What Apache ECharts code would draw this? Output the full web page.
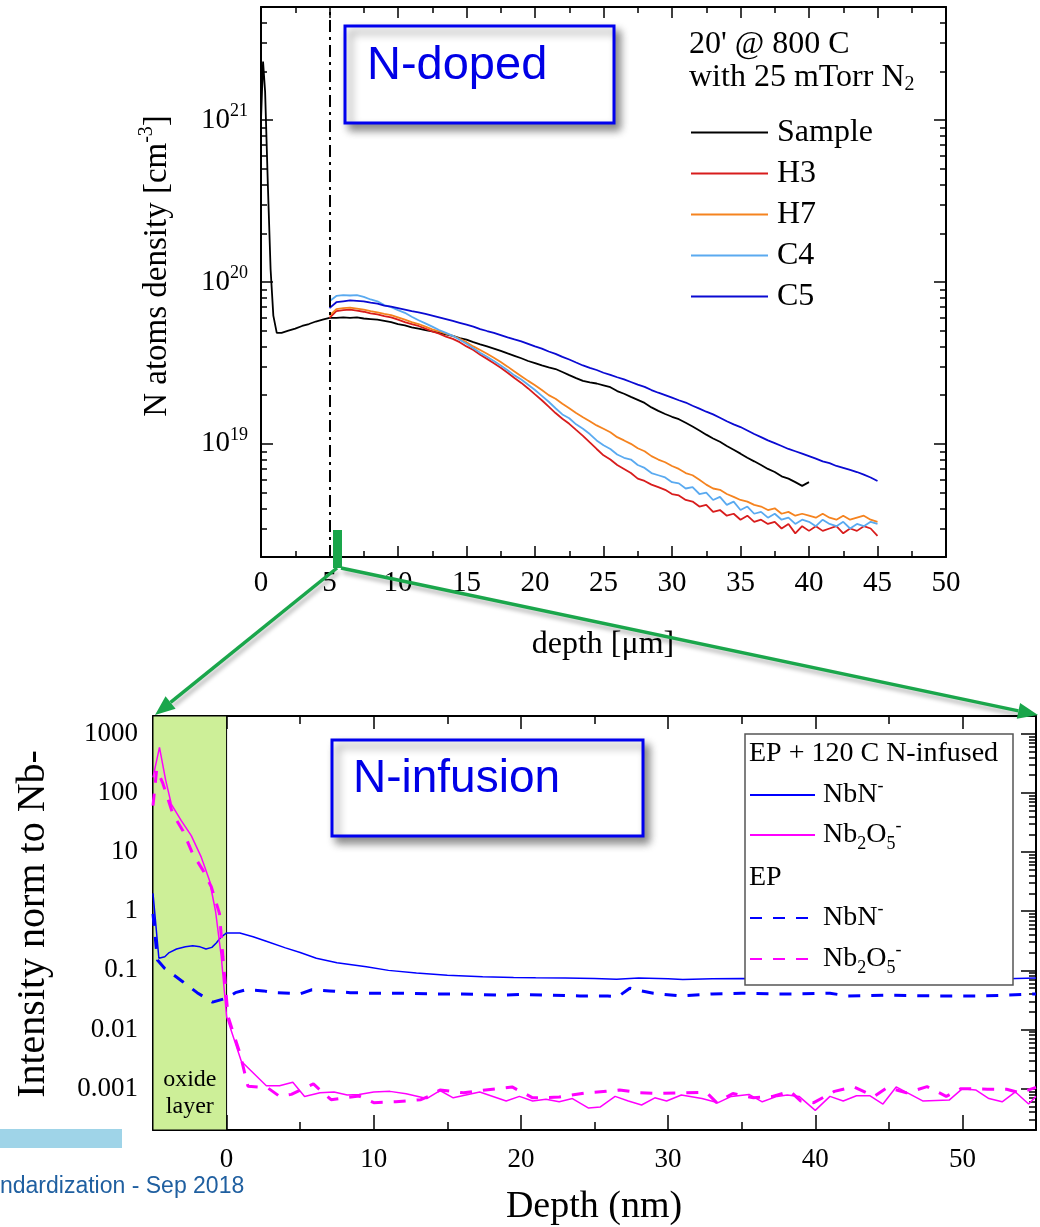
<!DOCTYPE html>
<html><head><meta charset="utf-8">
<script src="https://cdn.jsdelivr.net/npm/echarts@6/dist/echarts.min.js"></script>
<style>html,body{margin:0;padding:0;background:#fff}#c{width:1040px;height:1227px}</style>
</head><body><div id="c"></div>
<script>
// ================= TOP CHART DATA (N-doped, depth in µm, density in cm^-3) =================
const topXTicks = [0, 5, 10, 15, 20, 25, 30, 35, 40, 45, 50];
const topYTicks = [1e19, 1e20, 1e21];
const topYTickExponents = ['19', '20', '21'];
const topSeriesNames = ['Sample', 'H3', 'H7', 'C4', 'C5'];

const sampleDepthUm = [
 0, 0.15, 0.3, 0.5, 0.7, 0.9, 1.15, 1.5, 2, 2.5, 3, 3.5, 4, 4.5,
 5, 5.5, 6, 6.5, 7, 7.5, 8, 8.5, 9, 9.5,
 10, 10.5, 11, 11.5, 12, 12.5, 13, 13.5, 14, 14.5,
 15, 15.5, 16, 16.5, 17, 17.5, 18, 18.5, 19, 19.5,
 20, 20.5, 21, 21.5, 22, 22.5, 23, 23.5, 24, 24.5,
 25, 25.5, 26, 26.5, 27, 27.5, 28, 28.5, 29, 29.5,
 30, 30.5, 31, 31.5, 32, 32.5, 33, 33.5, 34, 34.5,
 35, 35.5, 36, 36.5, 37, 37.5, 38, 38.5, 39, 39.5,
 40];
const sampleDensity = [
 100e19, 230e19, 150e19, 40e19, 12e19, 6.2e19, 4.85e19, 4.85e19, 5.0e19, 5.15e19, 5.35e19, 5.5e19, 5.7e19, 5.85e19,
 6.0e19, 6.0e19, 6.05e19, 6.0e19, 6.05e19, 5.95e19, 5.9e19, 5.85e19, 5.75e19, 5.65e19,
 5.5e19, 5.4e19, 5.25e19, 5.15e19, 5.05e19, 4.95e19, 4.85e19, 4.75e19, 4.65e19, 4.5e19,
 4.4e19, 4.25e19, 4.12e19, 4.0e19, 3.88e19, 3.75e19, 3.62e19, 3.5e19, 3.38e19, 3.25e19,
 3.15e19, 3.05e19, 2.97e19, 2.9e19, 2.78e19, 2.66e19, 2.55e19, 2.45e19, 2.4e19, 2.36e19,
 2.3e19, 2.24e19, 2.12e19, 2.04e19, 1.95e19, 1.87e19, 1.79e19, 1.68e19, 1.6e19, 1.53e19,
 1.47e19, 1.42e19, 1.35e19, 1.28e19, 1.21e19, 1.14e19, 1.08e19, 1.03e19, 0.97e19, 0.92e19,
 0.87e19, 0.82e19, 0.78e19, 0.74e19, 0.7e19, 0.67e19, 0.63e19, 0.61e19, 0.58e19, 0.55e19,
 0.58e19];

const depthUm = [
 5, 5.5, 6, 6.5, 7, 7.5, 8, 8.5, 9, 9.5,
 10, 10.5, 11, 11.5, 12, 12.5, 13, 13.5, 14, 14.5,
 15, 15.5, 16, 16.5, 17, 17.5, 18, 18.5, 19, 19.5,
 20, 20.5, 21, 21.5, 22, 22.5, 23, 23.5, 24, 24.5,
 25, 25.5, 26, 26.5, 27, 27.5, 28, 28.5, 29, 29.5,
 30, 30.5, 31, 31.5, 32, 32.5, 33, 33.5, 34, 34.5,
 35, 35.5, 36, 36.5, 37, 37.5, 38, 38.5, 39, 39.5,
 40, 40.5, 41, 41.5, 42, 42.5, 43, 43.5, 44, 44.5,
 45];
const densityH3 = [
 6.0e19, 6.6e19, 6.7e19, 6.75e19, 6.65e19, 6.55e19, 6.4e19, 6.3e19, 6.15e19, 6.05e19,
 5.85e19, 5.65e19, 5.5e19, 5.35e19, 5.15e19, 4.95e19, 4.8e19, 4.6e19, 4.45e19, 4.25e19,
 4.0e19, 3.8e19, 3.55e19, 3.35e19, 3.15e19, 2.95e19, 2.75e19, 2.55e19, 2.38e19, 2.2e19,
 2.02e19, 1.86e19, 1.7e19, 1.55e19, 1.43e19, 1.33e19, 1.22e19, 1.12e19, 1.02e19, 0.93e19,
 0.85e19, 0.8e19, 0.74e19, 0.7e19, 0.66e19, 0.61e19, 0.59e19, 0.56e19, 0.54e19, 0.52e19,
 0.49e19, 0.48e19, 0.45e19, 0.44e19, 0.41e19, 0.42e19, 0.38e19, 0.39e19, 0.36e19, 0.37e19,
 0.34e19, 0.36e19, 0.33e19, 0.34e19, 0.32e19, 0.33e19, 0.30e19, 0.32e19, 0.28e19, 0.31e19,
 0.29e19, 0.31e19, 0.29e19, 0.30e19, 0.31e19, 0.28e19, 0.30e19, 0.29e19, 0.31e19, 0.30e19,
 0.27e19];
const densityH7 = [
 6.2e19, 6.8e19, 6.9e19, 6.95e19, 6.85e19, 6.75e19, 6.6e19, 6.5e19, 6.35e19, 6.25e19,
 6.05e19, 5.85e19, 5.65e19, 5.5e19, 5.3e19, 5.1e19, 4.95e19, 4.8e19, 4.65e19, 4.45e19,
 4.25e19, 4.0e19, 3.8e19, 3.6e19, 3.4e19, 3.2e19, 3.0e19, 2.8e19, 2.62e19, 2.45e19,
 2.3e19, 2.15e19, 2.0e19, 1.9e19, 1.77e19, 1.66e19, 1.55e19, 1.46e19, 1.38e19, 1.3e19,
 1.24e19, 1.18e19, 1.1e19, 1.05e19, 1.0e19, 0.94e19, 0.9e19, 0.84e19, 0.8e19, 0.77e19,
 0.73e19, 0.7e19, 0.66e19, 0.64e19, 0.6e19, 0.56e19, 0.53e19, 0.52e19, 0.49e19, 0.47e19,
 0.45e19, 0.44e19, 0.42e19, 0.41e19, 0.39e19, 0.40e19, 0.37e19, 0.38e19, 0.36e19, 0.37e19,
 0.36e19, 0.35e19, 0.37e19, 0.35e19, 0.34e19, 0.36e19, 0.34e19, 0.35e19, 0.36e19, 0.34e19,
 0.33e19];
const densityC4 = [
 7.6e19, 8.2e19, 8.3e19, 8.25e19, 8.3e19, 8.1e19, 7.8e19, 7.6e19, 7.2e19, 7.0e19,
 6.7e19, 6.45e19, 6.1e19, 5.8e19, 5.55e19, 5.3e19, 5.05e19, 4.85e19, 4.65e19, 4.4e19,
 4.15e19, 3.9e19, 3.65e19, 3.45e19, 3.25e19, 3.05e19, 2.85e19, 2.65e19, 2.5e19, 2.32e19,
 2.15e19, 1.98e19, 1.82e19, 1.66e19, 1.52e19, 1.44e19, 1.32e19, 1.24e19, 1.15e19, 1.05e19,
 0.98e19, 0.93e19, 0.86e19, 0.82e19, 0.80e19, 0.74e19, 0.71e19, 0.66e19, 0.64e19, 0.62e19,
 0.58e19, 0.57e19, 0.53e19, 0.54e19, 0.49e19, 0.50e19, 0.45e19, 0.47e19, 0.42e19, 0.44e19,
 0.39e19, 0.41e19, 0.37e19, 0.38e19, 0.35e19, 0.37e19, 0.34e19, 0.35e19, 0.32e19, 0.34e19,
 0.33e19, 0.31e19, 0.34e19, 0.32e19, 0.31e19, 0.33e19, 0.30e19, 0.32e19, 0.31e19, 0.33e19,
 0.32e19];
const densityC5 = [
 6.9e19, 7.5e19, 7.6e19, 7.7e19, 7.65e19, 7.6e19, 7.45e19, 7.35e19, 7.15e19, 7.05e19,
 6.9e19, 6.75e19, 6.6e19, 6.5e19, 6.35e19, 6.2e19, 6.05e19, 5.9e19, 5.75e19, 5.6e19,
 5.45e19, 5.3e19, 5.12e19, 4.98e19, 4.85e19, 4.7e19, 4.55e19, 4.42e19, 4.3e19, 4.15e19,
 4.0e19, 3.88e19, 3.72e19, 3.6e19, 3.45e19, 3.32e19, 3.18e19, 3.05e19, 2.95e19, 2.86e19,
 2.75e19, 2.67e19, 2.58e19, 2.5e19, 2.41e19, 2.32e19, 2.25e19, 2.15e19, 2.07e19, 2.0e19,
 1.93e19, 1.86e19, 1.8e19, 1.72e19, 1.65e19, 1.58e19, 1.52e19, 1.45e19, 1.38e19, 1.32e19,
 1.27e19, 1.21e19, 1.15e19, 1.1e19, 1.05e19, 1.01e19, 0.97e19, 0.93e19, 0.9e19, 0.87e19,
 0.84e19, 0.81e19, 0.78e19, 0.76e19, 0.73e19, 0.71e19, 0.69e19, 0.67e19, 0.645e19, 0.62e19,
 0.59e19];

// ================= BOTTOM CHART DATA (N-infusion, depth in nm, intensity) =================
const bottomXTicks = [0, 10, 20, 30, 40, 50];
const bottomXMinorTicks = [5, 15, 25, 35, 45, 55];
const bottomYTicks = [0.001, 0.01, 0.1, 1, 10, 100, 1000];
const bottomYTickLabels = ['0.001', '0.01', '0.1', '1', '10', '100', '1000'];

const infusedNbN = [[-5,2.0],[-4.6,0.16],[-4.2,0.17],[-3.9,0.2],[-3.4,0.23],[-2.8,0.25],[-2.3,0.26],[-1.8,0.25],[-1.4,0.23],[-1.0,0.245],[-0.7,0.29],[-0.4,0.36],[0,0.43],[0.9,0.43],[1.8,0.37],[2.7,0.31],[4.0,0.24],[5.0,0.2],[6.1,0.16],[7.5,0.135],[9.5,0.115],[11,0.1],[12.9,0.09],[15,0.083],[17.4,0.078],[19.5,0.076],[21,0.075],[23,0.074],[25,0.073],[26.5,0.071],[28,0.074],[30,0.072],[31,0.07],[33,0.072],[35,0.073],[38,0.072],[42,0.073],[46,0.072],[50,0.073],[53,0.072],[55,0.074]];
const infusedNb2O5 = [[-5,183],[-4.56,590],[-4.15,170],[-3.76,65],[-3.08,34],[-2.4,19],[-1.72,8.2],[-1.16,3.3],[-0.75,1.0],[-0.36,0.17],[0,0.0166],[1.0,0.0029],[2.7,0.00112],[3.6,0.00112],[4.5,0.00128],[5.3,0.00074],[6.35,0.00085],[7.3,0.00088],[8.2,0.00078],[9.0,0.0008],[10.0,0.00088],[11.1,0.0009],[12.2,0.00082],[13.6,0.00068],[14.5,0.00093],[15.4,0.0007],[17.2,0.00088],[19.0,0.00062],[19.9,0.00074],[20.8,0.00062],[21.7,0.00066],[22.6,0.0006],[23.5,0.00068],[24.6,0.00047],[25.4,0.00049],[26.4,0.00074],[27.3,0.00062],[28.2,0.00053],[29.1,0.0007],[29.9,0.00062],[30.9,0.00078],[32.3,0.00068],[33.4,0.00058],[34.3,0.00074],[35.5,0.0008],[36.4,0.0006],[37.4,0.00074],[38.1,0.00078],[38.9,0.00074],[40.0,0.00043],[41.0,0.00074],[41.9,0.00062],[42.8,0.00076],[43.7,0.00076],[44.6,0.00055],[45.5,0.00107],[47.3,0.00062],[49.1,0.00064],[50.0,0.001],[50.9,0.00095],[51.8,0.00068],[52.7,0.0006],[53.6,0.00088],[54.5,0.00055],[55,0.00074]];
const epNbN = [[-5,0.9],[-4.7,0.15],[-4.2,0.108],[-3.0,0.065],[-2.0,0.042],[-0.95,0.029],[0,0.034],[0.6,0.042],[1.3,0.047],[2.5,0.045],[3.2,0.042],[4.3,0.041],[5.0,0.040],[5.8,0.047],[7,0.045],[8.4,0.042],[10,0.041],[12,0.041],[14,0.040],[16,0.040],[18.6,0.038],[20,0.039],[22,0.038],[24,0.037],[25.9,0.037],[26.6,0.036],[27.4,0.05],[28.2,0.045],[29,0.041],[30.8,0.037],[33,0.04],[35,0.041],[37,0.04],[39,0.04],[41,0.041],[42.2,0.037],[45,0.038],[48,0.037],[51.4,0.037],[53,0.038],[55,0.04]];
const epNb2O5 = [[-5,61],[-4.75,250],[-4.35,150],[-3.65,44],[-2.97,23],[-2.3,9.3],[-1.6,4.9],[-1.04,2.6],[-0.48,0.91],[-0.25,0.17],[0.1,0.0166],[0.9,0.004],[1.45,0.0011],[2.8,0.00103],[3.6,0.00074],[4.4,0.0008],[5.2,0.001],[5.9,0.0012],[7.1,0.00065],[9.0,0.00075],[10.0,0.00058],[11.5,0.0006],[13.2,0.00065],[14.0,0.0008],[14.5,0.00095],[16.1,0.00085],[17.6,0.00095],[19.4,0.00107],[20.8,0.0007],[22.6,0.00072],[24.4,0.00085],[25.8,0.0009],[26.7,0.00095],[28.1,0.00085],[29.5,0.00083],[30.8,0.00085],[32.6,0.00087],[33.3,0.00058],[34.4,0.00083],[35.8,0.0007],[37.1,0.00074],[38.3,0.0009],[39.0,0.00062],[39.9,0.00058],[41.3,0.0009],[42.6,0.00108],[44.0,0.00074],[44.9,0.00105],[46.2,0.00085],[47.6,0.00108],[48.9,0.00074],[49.9,0.001],[51.7,0.00098],[53.0,0.00098],[53.9,0.00085],[55,0.00105]];

// ================= RENDER =================
const SERIF = '"Liberation Serif", "Times New Roman", serif';
const SANS = '"Liberation Sans", Arial, sans-serif';
const BLACK = '#000';

function logMinor(lo, hi, min, max) {
  const out = [];
  for (let e = lo; e <= hi; e++) for (let m = 2; m <= 9; m++) {
    const v = m * Math.pow(10, e);
    if (v >= min * 0.999 && v <= max * 1.001) out.push(v);
  }
  return out;
}
function findTick(v, ticks) {
  return ticks.findIndex(t => Math.abs(Math.log10(t) - Math.log10(v)) < 1e-6);
}
function yAx(gridIndex, position, min, max, tickVals, tickLen, showLine, label) {
  return {
    gridIndex, type: 'log', logBase: 10, min, max, position,
    axisLine: { show: showLine, onZero: false, lineStyle: { color: BLACK, width: 2 } },
    axisTick: { show: true, inside: true, length: tickLen, customValues: tickVals, lineStyle: { color: BLACK, width: 1.5 } },
    axisLabel: label || { show: false },
    splitLine: { show: false }, minorTick: { show: false }, minorSplitLine: { show: false }
  };
}
function xAx(gridIndex, position, min, max, extra) {
  return Object.assign({
    gridIndex, type: 'value', min, max, position,
    axisLine: { show: true, onZero: false, lineStyle: { color: BLACK, width: 2 } },
    splitLine: { show: false }, minorSplitLine: { show: false }
  }, extra);
}

const TOP_MIN = 2e18, TOP_MAX = 5e21;
const BOT_MIN = 2e-4, BOT_MAX = 2000;
const topMinor = logMinor(18, 21, TOP_MIN, TOP_MAX);
const botMinor = logMinor(-4, 3, BOT_MIN, BOT_MAX);

const topYLabel = {
  show: true, customValues: topYTicks, margin: 13,
  formatter: v => { const i = findTick(v, topYTicks); return i < 0 ? '' : '{b|10}{s|' + topYTickExponents[i] + '}'; },
  rich: {
    b: { fontSize: 29, lineHeight: 36, fontFamily: SERIF, color: BLACK },
    s: { fontSize: 18, lineHeight: 18, verticalAlign: 'top', fontFamily: SERIF, color: BLACK }
  }
};
const botYLabel = {
  show: true, customValues: bottomYTicks, margin: 15, fontSize: 27, fontFamily: SERIF, color: BLACK,
  formatter: v => { const i = findTick(v, bottomYTicks); return i < 0 ? '' : bottomYTickLabels[i]; }
};

const topTickCommon = {
  interval: 5,
  axisTick: { show: true, inside: true, length: 11, lineStyle: { color: BLACK, width: 1.5 } },
  minorTick: { show: true, splitNumber: 2, length: 6, lineStyle: { color: BLACK, width: 1.5 } }
};

const xAxes = [
  xAx(0, 'bottom', 0, 50, Object.assign({}, topTickCommon, {
    axisLabel: { show: true, customValues: topXTicks, margin: 12, fontSize: 29, fontFamily: SERIF, color: BLACK }
  })),
  xAx(0, 'top', 0, 50, Object.assign({}, topTickCommon, { axisLabel: { show: false } })),
  xAx(1, 'bottom', -5, 55, {
    axisTick: { show: true, inside: true, length: 15, customValues: bottomXTicks, lineStyle: { color: BLACK, width: 1.5 } },
    axisLabel: { show: true, customValues: bottomXTicks, margin: 16, fontSize: 27, fontFamily: SERIF, color: BLACK }
  }),
  xAx(1, 'bottom', -5, 55, {
    axisLine: { show: false, onZero: false },
    axisTick: { show: true, inside: true, length: 8, customValues: bottomXMinorTicks, lineStyle: { color: BLACK, width: 1.5 } },
    axisLabel: { show: false }
  }),
  xAx(1, 'top', -5, 55, {
    axisTick: { show: true, inside: true, length: 13, customValues: bottomXTicks, lineStyle: { color: BLACK, width: 1.5 } },
    axisLabel: { show: false }
  }),
  xAx(1, 'top', -5, 55, {
    axisLine: { show: false, onZero: false },
    axisTick: { show: true, inside: true, length: 8, customValues: bottomXMinorTicks, lineStyle: { color: BLACK, width: 1.5 } },
    axisLabel: { show: false }
  })
];
const yAxes = [
  yAx(0, 'left', TOP_MIN, TOP_MAX, topYTicks, 12, true, topYLabel),
  yAx(0, 'left', TOP_MIN, TOP_MAX, topMinor, 6, false),
  yAx(0, 'right', TOP_MIN, TOP_MAX, topYTicks, 12, true),
  yAx(0, 'right', TOP_MIN, TOP_MAX, topMinor, 6, false),
  yAx(1, 'left', BOT_MIN, BOT_MAX, bottomYTicks, 15, true, botYLabel),
  yAx(1, 'left', BOT_MIN, BOT_MAX, botMinor, 7, false),
  yAx(1, 'right', BOT_MIN, BOT_MAX, bottomYTicks, 15, true),
  yAx(1, 'right', BOT_MIN, BOT_MAX, botMinor, 7, false)
];

function zip(xs, ys) { return xs.map((x, i) => [x, ys[i]]); }
function topLine(name, xs, ys, color, extra) {
  return Object.assign({
    name, type: 'line', xAxisIndex: 0, yAxisIndex: 0, data: zip(xs, ys),
    symbol: 'none', showSymbol: false, silent: true,
    lineStyle: { color, width: 1.8 }, itemStyle: { color }
  }, extra);
}
function botLine(name, data, color, dashed, extra) {
  return Object.assign({
    name, type: 'line', xAxisIndex: 2, yAxisIndex: 4, data,
    symbol: 'none', showSymbol: false, silent: true, z: 3,
    lineStyle: { color, width: dashed ? 3 : 1.5, type: dashed ? [12, 11] : 'solid' },
    itemStyle: { color }
  }, extra);
}

const series = [
  topLine('Sample', sampleDepthUm, sampleDensity, '#000000', {
    markLine: {
      silent: true, symbol: ['none', 'none'], label: { show: false },
      lineStyle: { type: [12, 5, 3, 5], color: BLACK, width: 2 },
      data: [{ xAxis: 5 }]
    }
  }),
  topLine('H3', depthUm, densityH3, '#d81c1c'),
  topLine('H7', depthUm, densityH7, '#f5831f'),
  topLine('C4', depthUm, densityC4, '#5aaaf0'),
  topLine('C5', depthUm, densityC5, '#0a0ad2'),
  botLine('EP+120C NbN', infusedNbN, '#0000ff', false, {
    markArea: {
      silent: true,
      itemStyle: { color: '#cdef98', borderColor: BLACK, borderWidth: 1 },
      label: { show: true, position: 'insideBottom', distance: 10, formatter: 'oxide\nlayer',
               fontFamily: SERIF, fontSize: 24, lineHeight: 27, color: BLACK },
      data: [[{ xAxis: -5 }, { xAxis: 0 }]]
    }
  }),
  botLine('EP+120C Nb2O5', infusedNb2O5, '#ff00ff', false),
  botLine('EP NbN', epNbN, '#0000ff', true),
  botLine('EP Nb2O5', epNb2O5, '#ff00ff', true)
];

const legRich = {
  t: { fontFamily: SERIF, fontSize: 28, lineHeight: 36, color: BLACK },
  sub: { fontFamily: SERIF, fontSize: 18, lineHeight: 18, verticalAlign: 'bottom', color: BLACK },
  sup: { fontFamily: SERIF, fontSize: 18, lineHeight: 18, verticalAlign: 'top', color: BLACK }
};
function speciesLabel(name) {
  return name.endsWith('Nb2O5') ? '{t|Nb}{sub|2}{t|O}{sub|5}{sup|-}' : '{t|NbN}{sup|-}';
}
const noSymbol = { opacity: 0 };
const legends = [
  { left: 690, top: 112, orient: 'vertical', itemWidth: 77, itemHeight: 14, itemGap: 0, padding: 0,
    selectedMode: false, z: 10, data: topSeriesNames, itemStyle: noSymbol,
    textStyle: { fontFamily: SERIF, fontSize: 32, color: BLACK, lineHeight: 41, padding: [0, 0, 0, 4] } },
  { left: 749, top: 777, orient: 'vertical', itemWidth: 65, itemHeight: 14, itemGap: 4, padding: 0,
    selectedMode: false, z: 10, data: ['EP+120C NbN', 'EP+120C Nb2O5'], formatter: speciesLabel, itemStyle: noSymbol,
    textStyle: { fontFamily: SERIF, fontSize: 28, color: BLACK, lineHeight: 36, padding: [0, 0, 0, 3], rich: legRich } },
  { left: 749, top: 900, orient: 'vertical', itemWidth: 65, itemHeight: 14, itemGap: 5, padding: 0,
    selectedMode: false, z: 10, data: ['EP NbN', 'EP Nb2O5'], formatter: speciesLabel, itemStyle: noSymbol,
    textStyle: { fontFamily: SERIF, fontSize: 28, color: BLACK, lineHeight: 36, padding: [0, 0, 0, 3], rich: legRich } }
];

// annotation arrows (green zoom indicator)
const GREEN = '#1aa64b';
function arrow(x1, y1, x2, y2) {
  const L = 20, W = 8;
  const dx = x2 - x1, dy = y2 - y1, len = Math.hypot(dx, dy);
  const ux = dx / len, uy = dy / len;
  const bx = x2 - ux * L, by = y2 - uy * L;
  const shadow = { shadowBlur: 4, shadowOffsetX: 2, shadowOffsetY: 4, shadowColor: 'rgba(0,0,0,0.3)' };
  return [
    { type: 'line', z: 20, shape: { x1, y1, x2: bx, y2: by }, style: Object.assign({ stroke: GREEN, lineWidth: 3.5 }, shadow) },
    { type: 'polygon', z: 20, shape: { points: [[x2, y2], [bx - uy * W, by + ux * W], [bx + uy * W, by - ux * W]] }, style: { fill: GREEN } }
  ];
}

function txt(x, y, text, size, family, extra, styleExtra) {
  return Object.assign({
    type: 'text', x, y, z: 12,
    style: Object.assign({ text, fontSize: size, fontFamily: family, fill: BLACK, verticalAlign: 'middle' }, styleExtra)
  }, extra);
}

const boxShadow = { shadowBlur: 8, shadowOffsetX: 5, shadowOffsetY: 6, shadowColor: 'rgba(0,0,0,0.45)' };

const graphics = [
  // N-doped box
  { type: 'rect', z: 6, shape: { x: 345, y: 26, width: 269, height: 97 },
    style: Object.assign({ fill: '#fff', stroke: '#0000ee', lineWidth: 3 }, boxShadow) },
  txt(367, 66, 'N-doped', 47, SANS, {}, { fill: '#0000e6' }),
  // N-infusion box
  { type: 'rect', z: 6, shape: { x: 332, y: 740, width: 311, height: 96 },
    style: Object.assign({ fill: '#fff', stroke: '#0000ee', lineWidth: 3 }, boxShadow) },
  txt(353, 779, 'N-infusion', 46, SANS, {}, { fill: '#0000e6' }),
  // top legend header
  txt(689, 45, "20' @ 800 C", 32, SERIF),
  txt(689, 78, '{t|with 25 mTorr N}{s|2}', 32, SERIF, {}, {
    rich: { t: { fontSize: 32, fontFamily: SERIF, fill: BLACK, lineHeight: 34 },
            s: { fontSize: 20, fontFamily: SERIF, fill: BLACK, lineHeight: 20, verticalAlign: 'bottom' } } }),
  // top axis titles
  txt(157, 266, '{t|N atoms density [cm}{s|-3}{t|]}', 33, SERIF, { rotation: Math.PI / 2 }, {
    align: 'center',
    rich: { t: { fontSize: 33, fontFamily: SERIF, fill: BLACK, lineHeight: 40 },
            s: { fontSize: 20, fontFamily: SERIF, fill: BLACK, lineHeight: 20, verticalAlign: 'top' } } }),
  txt(603, 645, 'depth [\u03bcm]', 32, SERIF, {}, { align: 'center' }),
  // bottom axis titles
  txt(33, 924, 'Intensity norm to Nb-', 40, SERIF, { rotation: Math.PI / 2 }, { align: 'center' }),
  txt(594, 1207, 'Depth (nm)', 38, SERIF, {}, { align: 'center' }),
  // bottom legend box + group headers
  { type: 'rect', z: 5, shape: { x: 745, y: 734, width: 268, height: 251 },
    style: { fill: '#fff', stroke: '#555', lineWidth: 1.5 } },
  txt(749, 754, 'EP + 120 C N-infused', 28, SERIF),
  txt(749, 878, 'EP', 28, SERIF),
  // slide footer remnants
  { type: 'rect', z: 6, shape: { x: 0, y: 1129, width: 122, height: 19 }, style: { fill: '#9fd4e8' } },
  txt(0, 1187, 'ndardization - Sep 2018', 23, SANS, {}, { fill: '#1f5fa0' }),
  // green zoom marker
  { type: 'rect', z: 20, shape: { x: 333, y: 530, width: 9, height: 38 }, style: { fill: GREEN } }
].concat(arrow(337, 568, 155, 715), arrow(341, 568, 1038, 715));

const option = {
  animation: false,
  backgroundColor: '#fff',
  textStyle: { fontFamily: SERIF },
  grid: [
    { left: 261, top: 7, width: 685, height: 550, containLabel: false, outerBoundsMode: 'none' },
    { left: 153, top: 716, width: 883, height: 414, containLabel: false, outerBoundsMode: 'none' }
  ],
  xAxis: xAxes,
  yAxis: yAxes,
  legend: legends,
  series,
  graphic: { elements: graphics }
};

const chart = echarts.init(document.getElementById('c'), null, { renderer: 'canvas' });
chart.setOption(option);
</script>
</body></html>
